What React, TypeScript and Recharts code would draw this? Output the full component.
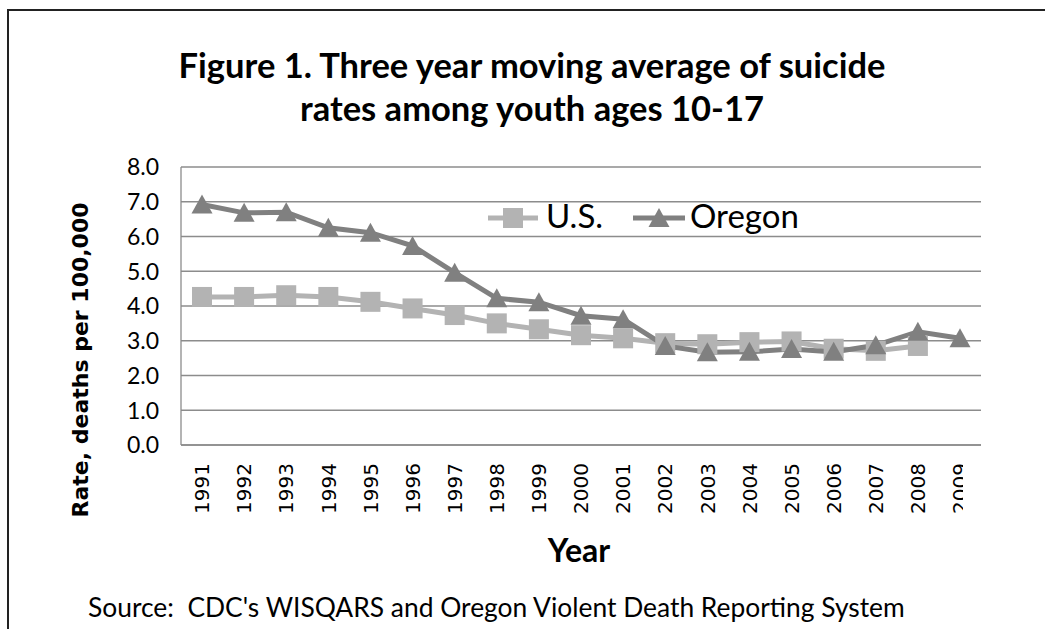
import React from "react";
import { LineChart, Line, XAxis, YAxis, CartesianGrid, Legend } from "recharts";

const years = ["1991","1992","1993","1994","1995","1996","1997","1998","1999","2000","2001","2002","2003","2004","2005","2006","2007","2008","2009"];
const usRates: (number | null)[] = [4.26,4.26,4.31,4.26,4.12,3.93,3.74,3.5,3.33,3.16,3.07,2.93,2.9,2.96,2.98,2.77,2.71,2.85,null];
const oregonRates: number[] = [6.92,6.68,6.7,6.25,6.11,5.73,4.96,4.22,4.11,3.72,3.62,2.85,2.67,2.68,2.76,2.68,2.87,3.26,3.07];
const yTicks = [0,1,2,3,4,5,6,7,8];

const titleLines = ["Figure 1. Three year moving average of suicide", "rates among youth ages 10-17"];
const yLabel = "Rate, deaths per 100,000";
const xLabel = "Year";
const sourceText = "Source:  CDC's WISQARS and Oregon Violent Death Reporting System";

const US_COLOR = "#b3b3b3";
const OR_COLOR = "#808080";
const GRID = "#8c8c8c";
const CAL = "Lato, 'Open Sans', sans-serif";
const VER = "'DejaVu Sans', Verdana, sans-serif";

const data = years.map((y, i) => ({ year: y, us: usRates[i], oregon: oregonRates[i] }));

const XTick = (props: any) => {
  const { x, payload } = props;
  return (
    <g>
      <defs>
        <clipPath id="xTickClip" clipPathUnits="userSpaceOnUse">
          <rect x={0} y={0} width={963} height={629} />
        </clipPath>
      </defs>
      <g clipPath="url(#xTickClip)">
        <text x={x} y={463} transform={`rotate(-90, ${x}, 463)`} textAnchor="end" dy="0.36em"
          fontFamily={VER} fontSize={20} fill="#000">{payload.value}</text>
      </g>
    </g>
  );
};

const YTick = (props: any) => {
  const { y, payload } = props;
  return (
    <text x={159} y={y} textAnchor="end" dy="0.36em" fontFamily={CAL} fontSize={23} fill="#000">
      {Number(payload.value).toFixed(1)}
    </text>
  );
};

const SquareDot = (props: any) => {
  const { cx, cy, index } = props;
  if (cx == null || cy == null || props.value == null) return <g key={`s${index}`} />;
  return <rect key={`s${index}`} x={cx - 10} y={cy - 10} width={20} height={20} fill={US_COLOR} />;
};

const TriDot = (props: any) => {
  const { cx, cy, index } = props;
  if (cx == null || cy == null) return <g key={`t${index}`} />;
  return <polygon key={`t${index}`} points={`${cx},${cy - 10} ${cx + 10.5},${cy + 9} ${cx - 10.5},${cy + 9}`} fill={OR_COLOR} />;
};

const LegendContent = () => (
  <svg width={340} height={50} style={{ display: "block" }}>
    <line x1={8} y1={23} x2={58} y2={23} stroke={US_COLOR} strokeWidth={5} />
    <rect x={23} y={13} width={20} height={20} fill={US_COLOR} />
    <text x={66} y={33} fontFamily={CAL} fontSize={33} fill="#000">U.S.</text>
    <line x1={153} y1={23} x2={205} y2={23} stroke={OR_COLOR} strokeWidth={5} />
    <polygon points={`179,13 189.5,32 168.5,32`} fill={OR_COLOR} />
    <text x={210} y={33} fontFamily={CAL} fontSize={33} fill="#000">Oregon</text>
  </svg>
);

export default function App() {
  return (
    <div style={{ position: "absolute", left: 0, top: 0, width: 1045, height: 629, overflow: "hidden", background: "#fff" }}>
      <div style={{ position: "absolute", left: 7, top: 9, width: 1100, height: 700, borderTop: "2px solid #222", borderLeft: "2px solid #222" }} />
      <div style={{ position: "absolute", left: 0, top: 0 }}>
        <LineChart width={1045} height={629} data={data} margin={{ top: 167, right: 64, left: 0, bottom: 84 }}>
          <CartesianGrid horizontal vertical={false} stroke={GRID} strokeWidth={1.3} />
          <XAxis dataKey="year" interval={0} tickLine={false} axisLine={{ stroke: GRID, strokeWidth: 1.3 }}
            padding={{ left: 21, right: 21 }} height={100} tick={<XTick />} />
          <YAxis domain={[0, 8]} ticks={yTicks} width={181} tickLine={false}
            axisLine={{ stroke: GRID, strokeWidth: 1.3 }} tick={<YTick />} />
          <Legend layout="horizontal" verticalAlign="middle" align="center" content={<LegendContent />}
            wrapperStyle={{ position: "absolute", left: 480, top: 195, width: 340, height: 50 }} />
          <Line dataKey="us" name="U.S." stroke={US_COLOR} strokeWidth={5} dot={SquareDot} activeDot={false} isAnimationActive={false} />
          <Line dataKey="oregon" name="Oregon" stroke={OR_COLOR} strokeWidth={5} dot={TriDot} activeDot={false} isAnimationActive={false} />
        </LineChart>
      </div>
      <svg width={1045} height={629} style={{ position: "absolute", left: 0, top: 0, pointerEvents: "none" }}>
        <text x={532} y={78} textAnchor="middle" fontFamily={CAL} fontWeight="bold" fontSize={34.5} fill="#000">{titleLines[0]}</text>
        <text x={532} y={121} textAnchor="middle" fontFamily={CAL} fontWeight="bold" fontSize={34.5} fill="#000">{titleLines[1]}</text>
        <text x={80} y={360} transform="rotate(-90, 80, 360)" textAnchor="middle" dy="0.36em" fontFamily={VER} fontWeight="bold" fontSize={22} fill="#000">{yLabel}</text>
        <text x={579} y={562} textAnchor="middle" fontFamily={CAL} fontWeight="bold" fontSize={32} fill="#000">{xLabel}</text>
        <text x={88} y={617} fontFamily={CAL} fontSize={26.4} fill="#000" style={{ whiteSpace: "pre" }}>{sourceText}</text>
      </svg>
    </div>
  );
}
